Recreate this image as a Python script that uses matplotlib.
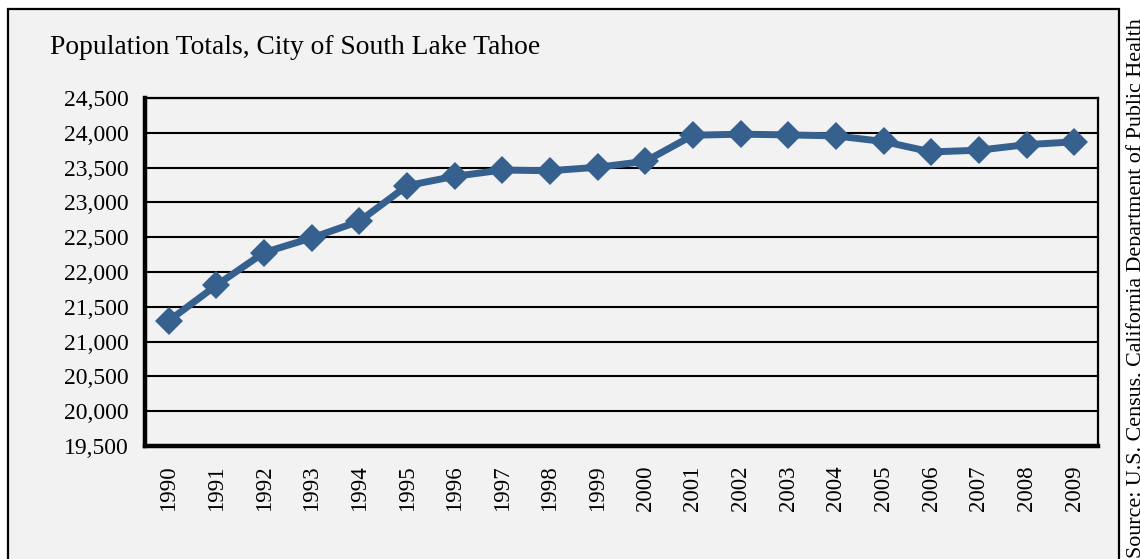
import matplotlib.pyplot as plt
from matplotlib.patches import Rectangle
from matplotlib.ticker import MultipleLocator, StrMethodFormatter

plt.rcParams["font.family"] = ["Liberation Serif", "DejaVu Serif"]

years = [str(y) for y in range(1990, 2010)]
population = [21300, 21810, 22280, 22490, 22730, 23240, 23375, 23465,
              23455, 23505, 23590, 23965, 23980, 23970, 23955, 23875,
              23725, 23750, 23830, 23870]

BG = "#F2F2F2"
LINE = "#36618F"

fig = plt.figure(figsize=(11.4, 5.59), dpi=100)
fig.patch.set_facecolor("white")

# outer chart box (bottom edge falls outside the image)
box = Rectangle((8 / 1140, -0.05), (1119 - 8) / 1140, 1.05 - 9 / 559,
                transform=fig.transFigure, facecolor=BG,
                edgecolor="black", linewidth=1.6, zorder=-5)
fig.add_artist(box)

ax = fig.add_axes([145 / 1140, 1 - 446 / 559, (1098 - 145) / 1140, (446 - 98) / 559])
ax.set_zorder(1)
ax.set_facecolor(BG)

x = list(range(len(years)))
ax.plot(x, population, color=LINE, linewidth=5, marker="D", markersize=14.5,
        markeredgewidth=0, zorder=3)

ax.set_xlim(-0.5, len(years) - 0.5)
ax.set_ylim(19500, 24500)
ax.yaxis.set_major_locator(MultipleLocator(500))
ax.yaxis.set_major_formatter(StrMethodFormatter("{x:,.0f}"))
ax.set_xticks(x)
ax.set_xticklabels(years, rotation=90)
ax.tick_params(axis="y", length=0, pad=12, labelsize=17)
ax.tick_params(axis="x", length=0, pad=14, labelsize=16.5)
ax.grid(axis="y", color="black", linewidth=1.5)
ax.set_axisbelow(True)

for side, lw in (("left", 3.2), ("bottom", 3.2), ("top", 1.6), ("right", 1.6)):
    ax.spines[side].set_linewidth(lw)
    ax.spines[side].set_color("black")

fig.text(50 / 1140, 1 - 48 / 559, "Population Totals, City of South Lake Tahoe",
         fontsize=19.8, ha="left", va="center", zorder=2)

fig.text(1126 / 1140, 0.002,
         "Source: U.S. Census, California Department of Public Health",
         rotation=90, fontsize=15.8, ha="left", va="bottom", zorder=2)

fig.savefig("out.png", dpi=100)
